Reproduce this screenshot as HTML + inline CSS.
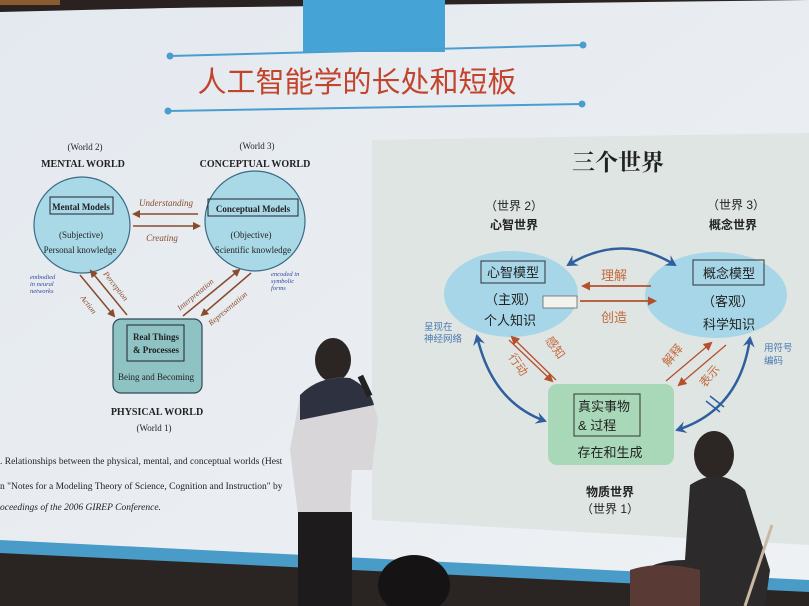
<!DOCTYPE html>
<html><head><meta charset="utf-8"><style>
html,body{margin:0;padding:0;width:809px;height:606px;overflow:hidden;background:#2a2523;}
svg{display:block}
</style></head><body>
<svg width="809" height="606" viewBox="0 0 809 606" xmlns="http://www.w3.org/2000/svg">
<defs>
<marker id="ab" markerWidth="8" markerHeight="8" refX="6" refY="4" orient="auto" markerUnits="userSpaceOnUse"><path d="M0,0 L8,4 L0,8 Z" fill="#8a4a2c"/></marker>
<marker id="ar" markerWidth="9" markerHeight="9" refX="7" refY="4.5" orient="auto" markerUnits="userSpaceOnUse"><path d="M0,0 L9,4.5 L0,9 Z" fill="#b5502e"/></marker>
<marker id="ablue" markerWidth="12" markerHeight="12" refX="9" refY="6" orient="auto-start-reverse" markerUnits="userSpaceOnUse"><path d="M0,0 L11,6 L0,12 L4,6 Z" fill="#2f5f9c"/></marker>
<linearGradient id="scr" x1="0" y1="0" x2="1" y2="1"><stop offset="0" stop-color="#e4e9ef"/><stop offset="1" stop-color="#eef1f4"/></linearGradient>
</defs>
<!-- screen -->
<polygon points="0,10 809,0 809,590 0,548" fill="url(#scr)"/>
<path d="M0,0 L420,0 L250,6 L0,12 Z" fill="#2a2220"/>
<rect x="0" y="0" width="60" height="5" fill="#8a5a30"/>
<polygon points="0,540 809,580 809,592 0,553" fill="#4a9cc8"/>
<!-- title area -->
<rect x="303" y="0" width="142" height="52" fill="#46a3d6"/>
<line x1="170" y1="56" x2="583" y2="45" stroke="#4a9ecf" stroke-width="2"/>
<circle cx="170" cy="56" r="3.5" fill="#4a9ecf"/><circle cx="583" cy="45" r="3.5" fill="#4a9ecf"/>
<line x1="168" y1="111" x2="582" y2="104" stroke="#4a9ecf" stroke-width="2"/>
<circle cx="168" cy="111" r="3.5" fill="#4a9ecf"/><circle cx="582" cy="104" r="3.5" fill="#4a9ecf"/>
<text x="357" y="92" text-anchor="middle" font-family="Liberation Sans, Noto Sans CJK SC, sans-serif" font-size="29" fill="#c2442d">人工智能学的长处和短板</text>

<!-- left diagram -->
<g font-family="Liberation Serif, serif" fill="#222">
<text x="85" y="150" text-anchor="middle" font-size="9">(World 2)</text>
<text x="83" y="167" text-anchor="middle" font-size="10" font-weight="bold">MENTAL WORLD</text>
<text x="257" y="149" text-anchor="middle" font-size="9">(World 3)</text>
<text x="255" y="167" text-anchor="middle" font-size="10" font-weight="bold">CONCEPTUAL WORLD</text>
<circle cx="82" cy="225" r="48" fill="#a9d8e6" stroke="#3a6b85" stroke-width="1.2"/>
<rect x="50" y="197" width="63" height="17" fill="none" stroke="#223" stroke-width="1"/>
<text x="81" y="210" text-anchor="middle" font-size="9" font-weight="bold">Mental Models</text>
<text x="81" y="238" text-anchor="middle" font-size="9">(Subjective)</text>
<text x="80" y="253" text-anchor="middle" font-size="9">Personal knowledge</text>
<circle cx="255" cy="221" r="50" fill="#a9d8e6" stroke="#3a6b85" stroke-width="1.2"/>
<rect x="208" y="199" width="90" height="17" fill="none" stroke="#223" stroke-width="1"/>
<text x="253" y="212" text-anchor="middle" font-size="9" font-weight="bold">Conceptual Models</text>
<text x="251" y="238" text-anchor="middle" font-size="9">(Objective)</text>
<text x="253" y="253" text-anchor="middle" font-size="9">Scientific knowledge</text>
<line x1="198" y1="214" x2="134" y2="214" stroke="#8a4a2c" stroke-width="1.5" marker-end="url(#ab)"/>
<line x1="133" y1="226" x2="199" y2="226" stroke="#8a4a2c" stroke-width="1.5" marker-end="url(#ab)"/>
<text x="166" y="206" text-anchor="middle" font-size="9" font-style="italic" fill="#8a4a2c">Understanding</text>
<text x="162" y="241" text-anchor="middle" font-size="9" font-style="italic" fill="#8a4a2c">Creating</text>
<text x="30" y="279" font-size="6.5" font-style="italic" fill="#33489a">embodied</text>
<text x="30" y="286" font-size="6.5" font-style="italic" fill="#33489a">in neural</text>
<text x="30" y="293" font-size="6.5" font-style="italic" fill="#33489a">networks</text>
<text x="271" y="276" font-size="6.5" font-style="italic" fill="#33489a">encoded in</text>
<text x="271" y="283" font-size="6.5" font-style="italic" fill="#33489a">symbolic</text>
<text x="271" y="290" font-size="6.5" font-style="italic" fill="#33489a">forms</text>
<line x1="80" y1="275" x2="114" y2="316" stroke="#8a4a2c" stroke-width="1.5" marker-end="url(#ab)"/>
<line x1="127" y1="315" x2="91" y2="271" stroke="#8a4a2c" stroke-width="1.5" marker-end="url(#ab)"/>
<line x1="183" y1="316" x2="239" y2="270" stroke="#8a4a2c" stroke-width="1.5" marker-end="url(#ab)"/>
<line x1="251" y1="273" x2="202" y2="315" stroke="#8a4a2c" stroke-width="1.5" marker-end="url(#ab)"/>
<text transform="translate(80,298) rotate(52)" font-size="8" font-style="italic" fill="#8a4a2c">Action</text>
<text transform="translate(103,274) rotate(52)" font-size="8" font-style="italic" fill="#8a4a2c">Perception</text>
<text transform="translate(180,311) rotate(-40)" font-size="8" font-style="italic" fill="#8a4a2c">Interpretation</text>
<text transform="translate(211,326) rotate(-40)" font-size="8" font-style="italic" fill="#8a4a2c">Representation</text>
<rect x="113" y="319" width="89" height="74" rx="8" fill="#8fc3c3" stroke="#2e4a55" stroke-width="1.2"/>
<rect x="127" y="325" width="57" height="36" fill="none" stroke="#223" stroke-width="1"/>
<text x="156" y="340" text-anchor="middle" font-size="9" font-weight="bold">Real Things</text>
<text x="156" y="353" text-anchor="middle" font-size="9" font-weight="bold">&amp; Processes</text>
<text x="156" y="380" text-anchor="middle" font-size="9">Being and Becoming</text>
<text x="157" y="415" text-anchor="middle" font-size="10" font-weight="bold">PHYSICAL WORLD</text>
<text x="154" y="431" text-anchor="middle" font-size="9">(World 1)</text>
<text x="0" y="464" font-size="9.5">. Relationships between the physical, mental, and conceptual worlds (Hest</text>
<text x="0" y="489" font-size="9.5">n "Notes for a Modeling Theory of Science, Cognition and Instruction" by</text>
<text x="0" y="510" font-size="9.5" font-style="italic">oceedings of the 2006 GIREP Conference.</text>
</g>

<!-- right panel -->
<polygon points="372,140 809,133 809,545 372,520" fill="#dfe5e3"/>
<g font-family="Liberation Sans, Noto Sans CJK SC, sans-serif" fill="#222">
<text x="618" y="170" text-anchor="middle" font-family="Noto Serif CJK SC, serif" font-size="23" font-weight="bold">三个世界</text>
<text x="514" y="210" text-anchor="middle" font-size="12">（世界 2）</text>
<text x="514" y="229" text-anchor="middle" font-size="12" font-weight="bold">心智世界</text>
<text x="736" y="209" text-anchor="middle" font-size="12">（世界 3）</text>
<text x="733" y="229" text-anchor="middle" font-size="12" font-weight="bold">概念世界</text>
<ellipse cx="511" cy="294" rx="67" ry="43" fill="#a6d6e7"/>
<rect x="481" y="261" width="64" height="22" fill="none" stroke="#333" stroke-width="1"/>
<text x="513" y="277" text-anchor="middle" font-size="13">心智模型</text>
<text x="511" y="304" text-anchor="middle" font-size="13">（主观）</text>
<text x="510" y="325" text-anchor="middle" font-size="13">个人知识</text>
<ellipse cx="716" cy="295" rx="71" ry="43" fill="#a6d6e7"/>
<rect x="693" y="260" width="71" height="25" fill="none" stroke="#333" stroke-width="1"/>
<text x="729" y="278" text-anchor="middle" font-size="13">概念模型</text>
<text x="728" y="306" text-anchor="middle" font-size="13">（客观）</text>
<text x="729" y="329" text-anchor="middle" font-size="13">科学知识</text>
<rect x="543" y="296" width="34" height="12" fill="#f2f2ee" stroke="#666" stroke-width="0.8"/>
<line x1="651" y1="286" x2="583" y2="286" stroke="#b5502e" stroke-width="1.8" marker-end="url(#ar)"/>
<line x1="580" y1="301" x2="655" y2="301" stroke="#b5502e" stroke-width="1.8" marker-end="url(#ar)"/>
<text x="614" y="280" text-anchor="middle" font-size="13" fill="#c46a3e">理解</text>
<text x="614" y="322" text-anchor="middle" font-size="13" fill="#c46a3e">创造</text>
<path d="M568,265 Q622,232 675,265" fill="none" stroke="#2f5f9c" stroke-width="2.5" marker-start="url(#ablue)" marker-end="url(#ablue)"/>
<path d="M477,336 Q492,402 545,421" fill="none" stroke="#2f5f9c" stroke-width="2.5" marker-start="url(#ablue)" marker-end="url(#ablue)"/>
<path d="M750,338 Q740,410 677,430" fill="none" stroke="#2f5f9c" stroke-width="2.5" marker-start="url(#ablue)" marker-end="url(#ablue)"/>
<line x1="710" y1="396" x2="724" y2="407" stroke="#2f5f9c" stroke-width="1.5"/>
<line x1="706" y1="401" x2="720" y2="412" stroke="#2f5f9c" stroke-width="1.5"/>
<text x="424" y="330" font-size="9.5" fill="#4a78b0">呈现在</text>
<text x="424" y="342" font-size="9.5" fill="#4a78b0">神经网络</text>
<text x="764" y="351" font-size="9.5" fill="#4a78b0">用符号</text>
<text x="764" y="364" font-size="9.5" fill="#4a78b0">编码</text>
<line x1="509" y1="340" x2="552" y2="381" stroke="#b5502e" stroke-width="1.3" marker-end="url(#ar)"/>
<line x1="556" y1="380" x2="512" y2="337" stroke="#b5502e" stroke-width="1.3" marker-end="url(#ar)"/>
<line x1="666" y1="381" x2="711" y2="343" stroke="#b5502e" stroke-width="1.3" marker-end="url(#ar)"/>
<line x1="726" y1="345" x2="679" y2="385" stroke="#b5502e" stroke-width="1.3" marker-end="url(#ar)"/>
<text transform="translate(508,357) rotate(55)" font-size="12" fill="#c46a3e">行动</text>
<text transform="translate(545,340) rotate(55)" font-size="12" fill="#c46a3e">感知</text>
<text transform="translate(668,367) rotate(-50)" font-size="12" fill="#c46a3e">解释</text>
<text transform="translate(705,388) rotate(-50)" font-size="12" fill="#c46a3e">表示</text>
<rect x="548" y="384" width="126" height="81" rx="9" fill="#a9d8b9"/>
<rect x="574" y="394" width="66" height="42" fill="none" stroke="#333" stroke-width="1"/>
<text x="578" y="411" font-size="13">真实事物</text>
<text x="578" y="430" font-size="13">&amp; 过程</text>
<text x="610" y="457" text-anchor="middle" font-size="13">存在和生成</text>
<text x="610" y="496" text-anchor="middle" font-size="12" font-weight="bold">物质世界</text>
<text x="610" y="513" text-anchor="middle" font-size="12">（世界 1）</text>
</g>

<!-- people silhouettes -->
<g>
<ellipse cx="333" cy="360" rx="18" ry="22" fill="#2b2624"/>
<path d="M300,395 Q320,375 350,378 Q372,390 378,420 L372,470 L352,470 L350,515 L298,515 L290,450 Z" fill="#d8d6d8"/>
<path d="M300,395 Q320,375 350,378 Q370,388 374,405 L300,420 Z" fill="#2e3140"/>
<rect x="298" y="512" width="54" height="94" fill="#1d1b1c"/>
<rect x="362" y="375" width="6" height="22" fill="#222" transform="rotate(-25 365 386)"/>
<ellipse cx="414" cy="585" rx="36" ry="30" fill="#151314"/>
<ellipse cx="714" cy="455" rx="20" ry="24" fill="#2c2624"/>
<path d="M690,485 Q720,465 745,490 L770,570 L765,606 L640,606 L630,580 Q650,560 685,560 Z" fill="#2d2a2b"/>
<path d="M630,570 Q660,560 700,570 L700,606 L630,606 Z" fill="#5a3a35"/>
<line x1="772" y1="525" x2="745" y2="606" stroke="#c9b9a4" stroke-width="3"/>
</g>
</svg>
</body></html>
